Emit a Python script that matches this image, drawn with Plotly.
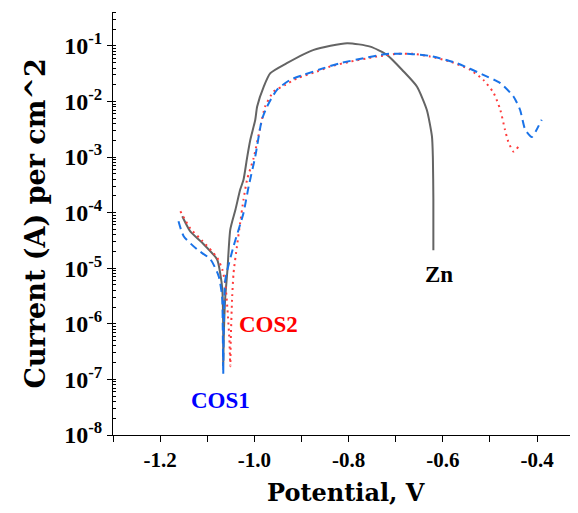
import plotly.graph_objects as go

# ---- data (potential in V, current density in A/cm^2) ----
zn_potential = [-1.153, -1.136, -1.111, -1.079, -1.072, -1.068, -1.066, -1.066,
                -1.065, -1.062, -1.057, -1.051, -1.040, -1.030, -1.023, -1.0155,
                -1.0085, -0.998, -0.994, -0.980, -0.966, -0.931, -0.874, -0.803,
                -0.754, -0.7185, -0.683, -0.655, -0.634, -0.623, -0.621, -0.620, -0.620]
zn_current = [8.6e-5, 4.6e-5, 2.9e-5, 1.44e-5, 7.7e-6, 4.2e-6, 8.0e-7, 1.74e-7,
              5.3e-7, 2.75e-6, 9.5e-6, 5.0e-5, 1.14e-4, 2.6e-4, 3.9e-4, 9.6e-4,
              2.05e-3, 4.7e-3, 8.1e-3, 1.86e-2, 3.24e-2, 4.9e-2, 8.5e-2, 0.112,
              0.097, 0.069, 0.0346, 0.0186, 7.1e-3, 2.35e-3, 9.6e-4, 1.72e-4, 2.1e-5]

cos2_potential = [-1.157, -1.136, -1.111, -1.079, -1.068, -1.0615, -1.057, -1.053, -1.051,
                  -1.050, -1.047, -1.044, -1.037, -1.030, -1.023, -1.0155, -1.0015,
                  -0.987, -0.977, -0.959, -0.934, -0.909, -0.867, -0.839, -0.796,
                  -0.740, -0.697, -0.662, -0.627, -0.584, -0.542, -0.514, -0.492,
                  -0.478, -0.468, -0.461, -0.450, -0.439]
cos2_current = [1.06e-4, 5.2e-5, 3.15e-5, 1.56e-5, 9.5e-6, 5.1e-6, 1.82e-6, 5.3e-7, 1.73e-7,
                5.3e-7, 3.1e-6, 8.4e-6, 2.46e-5, 6.6e-5, 1.72e-4, 3.9e-4, 9.6e-4,
                3.56e-3, 8.1e-3, 0.0151, 0.020, 0.0263, 0.0346, 0.0425, 0.0522,
                0.0643, 0.0718, 0.0718, 0.0643, 0.0522, 0.0371, 0.0245, 0.0142,
                7.1e-3, 3.1e-3, 1.9e-3, 1.26e-3, 1.56e-3]

cos1_potential = [-1.161, -1.150, -1.1215, -1.093, -1.0757, -1.0685, -1.067, -1.066,
                  -1.065, -1.0615, -1.044, -1.023, -1.012, -0.998, -0.984, -0.973,
                  -0.952, -0.924, -0.8954, -0.853, -0.818, -0.768, -0.719, -0.669,
                  -0.627, -0.570, -0.514, -0.478, -0.450, -0.436, -0.425, -0.411,
                  -0.402, -0.390]
cos1_current = [7.0e-5, 3.77e-5, 2.18e-5, 1.44e-5, 7.2e-6, 3.15e-6, 8.0e-7, 1.24e-7,
                8.0e-7, 6.3e-6, 2.5e-5, 9.9e-5, 2.98e-4, 1.03e-3, 4.7e-3, 8.1e-3,
                0.0162, 0.0245, 0.0301, 0.0398, 0.0489, 0.060, 0.0718, 0.0718,
                0.066, 0.0489, 0.0301, 0.0214, 0.0123, 7.1e-3, 3.1e-3, 2.3e-3,
                2.98e-3, 4.7e-3]

x_tickvals = [-1.2, -1.0, -0.8, -0.6, -0.4]
x_ticktext = ["-1.2", "-1.0", "-0.8", "-0.6", "-0.4"]
y_tickvals = [1e-1, 1e-2, 1e-3, 1e-4, 1e-5, 1e-6, 1e-7, 1e-8]
y_ticktext = ["10<sup>-1</sup>", "10<sup>-2</sup>", "10<sup>-3</sup>", "10<sup>-4</sup>",
              "10<sup>-5</sup>", "10<sup>-6</sup>", "10<sup>-7</sup>", "10<sup>-8</sup>"]

FONT = "Liberation Serif"
TFONT = "DejaVu Serif"

fig = go.Figure()
fig.add_trace(go.Scatter(x=zn_potential, y=zn_current, mode="lines", name="Zn",
                         line=dict(color="#646464", width=2, shape="spline", smoothing=0.6)))
fig.add_trace(go.Scatter(x=cos2_potential, y=cos2_current, mode="lines", name="COS2",
                         line=dict(color="#ff3b3b", width=2, dash="2px,4px", shape="spline", smoothing=0.6)))
fig.add_trace(go.Scatter(x=cos1_potential, y=cos1_current, mode="lines", name="COS1",
                         line=dict(color="#1a73e8", width=2, dash="8px,5px", shape="spline", smoothing=0.6)))

fig.add_annotation(x=-0.609, y=-5.11, text="<b>Zn</b>", showarrow=False,
                   font=dict(family=FONT, size=23, color="black"))
fig.add_annotation(x=-0.970, y=-6.01, text="<b>COS2</b>", showarrow=False,
                   font=dict(family=FONT, size=23, color="red"))
fig.add_annotation(x=-1.072, y=-7.38, text="<b>COS1</b>", showarrow=False,
                   font=dict(family=FONT, size=23, color="blue"))

# axis titles
fig.add_annotation(xref="paper", yref="paper", x=0, y=0.5, xshift=-78, xanchor="center", yanchor="middle",
                   text="<b>Current (A) per cm^2</b>", textangle=-90, showarrow=False,
                   font=dict(family=TFONT, size=27, color="black"))
fig.add_annotation(xref="paper", yref="paper", x=0.5, y=0, yshift=-57, xanchor="center", yanchor="middle",
                   text="<b>Potential, V</b>", showarrow=False,
                   font=dict(family=TFONT, size=24, color="black"))

# the page body has an 8px margin, so the figure is sized/offset to compensate
fig.update_layout(
    width=570, height=505,
    margin=dict(l=105, r=0, t=4, b=78),
    plot_bgcolor="white", paper_bgcolor="white",
    showlegend=False,
    font=dict(family=FONT, color="black"),
)
fig.update_xaxes(
    range=[-1.3, -0.313], showgrid=False, zeroline=False, automargin=False,
    showline=True, linecolor="black", linewidth=1,
    tickmode="array", tickvals=x_tickvals, ticktext=["<b>%s</b>" % t for t in x_ticktext],
    ticks="outside", ticklen=6, tickcolor="black",
    minor=dict(ticks="outside", ticklen=6, dtick=0.1, tick0=-1.3, tickcolor="black", showgrid=False),
    tickfont=dict(family=FONT, size=21, color="black"),
)
fig.update_yaxes(
    type="log", range=[-8, -0.39], showgrid=False, zeroline=False, automargin=False,
    showline=True, linecolor="black", linewidth=1,
    tickmode="array", tickvals=y_tickvals, ticktext=["<b>%s</b>" % t for t in y_ticktext],
    ticks="outside", ticklen=5, tickcolor="black",
    minor=dict(ticks="inside", ticklen=3, dtick="D1", tickcolor="black", showgrid=False),
    tickfont=dict(family=FONT, size=24, color="black"),
)

fig.write_html("out.html")
